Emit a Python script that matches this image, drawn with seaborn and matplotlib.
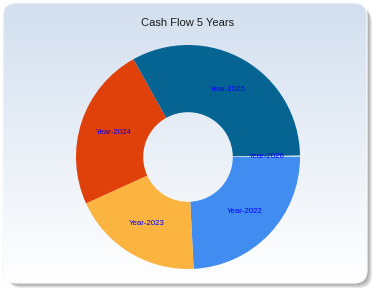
import numpy as np
import matplotlib
matplotlib.use("Agg")
import matplotlib.pyplot as plt
import seaborn as sns
from matplotlib.patches import FancyBboxPatch

# ---- data ----
categories = ["Year-2022", "Year-2023", "Year-2024", "Year-2025", "Year-2026"]
values = [24.2, 19.0, 23.7, 32.9, 0.2]
colors = ["#418CF0", "#FCB441", "#E0400A", "#056492", "#BFD8EE"]
title = "Cash Flow 5 Years"

sns.set_style("white")
plt.rcParams["font.family"] = ["Liberation Sans", "DejaVu Sans"]

W, H = 380, 296
fig = plt.figure(figsize=(W / 100, H / 100), dpi=100)
fig.patch.set_facecolor("white")

# background panel axes in pixel coordinates
bg = fig.add_axes([0, 0, 1, 1])
bg.set_xlim(0, W)
bg.set_ylim(H, 0)
bg.axis("off")

# shadow (layered for a soft edge)
for i in range(6):
    off = 6 - i
    sh = FancyBboxPatch((3 + off, 3 + off), 364 - 1, 280 - 1,
                        boxstyle="round,pad=0,rounding_size=13",
                        facecolor="#505050", edgecolor="none", alpha=0.13, zorder=1)
    bg.add_patch(sh)

panel = FancyBboxPatch((3, 3), 364, 280, boxstyle="round,pad=0,rounding_size=13",
                       facecolor="none", edgecolor="#F6F8FB", linewidth=1, zorder=3)
bg.add_patch(panel)
grad = np.linspace(0, 1, 256).reshape(-1, 1)
top = np.array([0.827, 0.875, 0.937])
bot = np.array([1.0, 1.0, 1.0])
img = top + (bot - top) * grad[..., None].repeat(1, axis=1)
im = bg.imshow(img, extent=(3, 367, 283, 3), aspect="auto", zorder=2,
               interpolation="bilinear")
clip = FancyBboxPatch((3, 3), 364, 280, boxstyle="round,pad=0,rounding_size=13",
                      transform=bg.transData, facecolor="none", edgecolor="none")
bg.add_patch(clip)
im.set_clip_path(clip)

bg.text(188, 23, title, ha="center", va="center", fontsize=8, color="#1A1A1A", zorder=5)

# pie axes: center (188,157) px, radius 112 px
cx, cy, r = 188, 157, 112
ax = fig.add_axes([(cx - r) / W, (H - cy - r) / H, 2 * r / W, 2 * r / H])
ax.set_facecolor("none")
wedges, texts = ax.pie(values, labels=categories, colors=colors, startangle=0,
                       counterclock=False, radius=1, labeldistance=0.7,
                       wedgeprops=dict(width=0.6, linewidth=0),
                       textprops=dict(color="#0000FF", fontsize=5.7))
for t in texts:
    t.set_ha("center")
    t.set_va("center")
ax.set_xlim(-1, 1)
ax.set_ylim(-1, 1)
ax.set_aspect("auto")

fig.savefig("out.png", dpi=100)
